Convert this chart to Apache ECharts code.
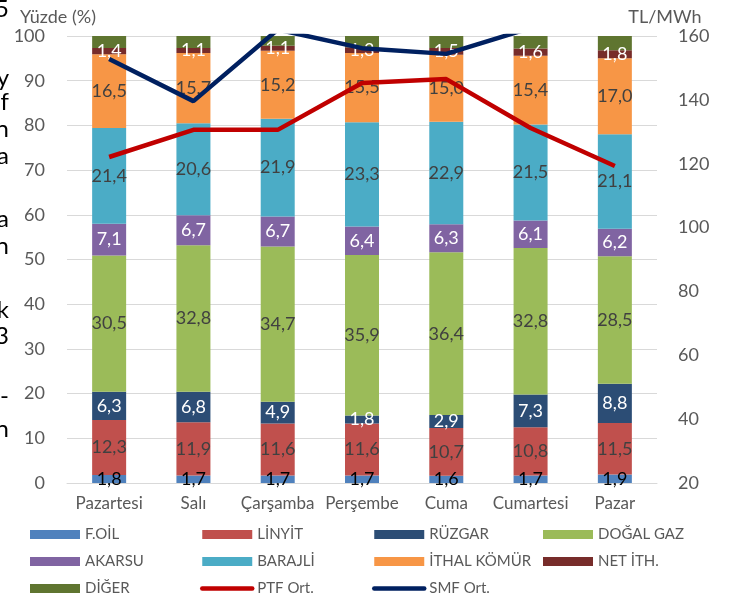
<!DOCTYPE html>
<html>
<head>
<meta charset="utf-8">
<script src="https://cdn.jsdelivr.net/npm/echarts@6/dist/echarts.min.js"></script>
<style>
    html, body { margin: 0; padding: 0; background: #fff; }
    #chart { width: 733px; height: 594px; }
</style>
</head>
<body>
<div id="chart"></div>
<script>
var days = ['Pazartesi', 'Salı', 'Çarşamba', 'Perşembe', 'Cuma', 'Cumartesi', 'Pazar'];

// kaynak payları (%)
var fOil = [1.8, 1.7, 1.7, 1.7, 1.6, 1.7, 1.9];
var linyit = [12.3, 11.9, 11.6, 11.6, 10.7, 10.8, 11.5];
var ruzgar = [6.3, 6.8, 4.9, 1.8, 2.9, 7.3, 8.8];
var dogalGaz = [30.5, 32.8, 34.7, 35.9, 36.4, 32.8, 28.5];
var akarsu = [7.1, 6.7, 6.7, 6.4, 6.3, 6.1, 6.2];
var barajli = [21.4, 20.6, 21.9, 23.3, 22.9, 21.5, 21.1];
var ithalKomur = [16.5, 15.7, 15.2, 15.5, 15.0, 15.4, 17.0];
var netIth = [1.4, 1.1, 1.1, 1.3, 1.5, 1.6, 1.8];
var diger = [2.7, 2.7, 2.2, 2.5, 2.7, 2.8, 3.2];

// fiyatlar (TL/MWh)
var ptf = [122.1, 130.6, 130.6, 145.3, 146.5, 131.2, 119.3];
var smf = [152.8, 139.6, 162.0, 156.2, 154.4, 162.5, 166.0];

// sol kenarda kesilmiş metin parçaları
var edgeText = ['5', 'y', 'lf', 'n', 'a', 'a', 'n', 'k', '3', '-', 'n'];
var edgeY = [11, 80, 104, 131, 158, 221, 248, 312, 338, 398, 431];

var font = 'Lato';
var gray = '#595959';

function fmt(p) {
    return p.value.toFixed(1).replace('.', ',');
}

function barSeries(name, data, color, labelColor) {
    return {
        name: name,
        type: 'bar',
        stack: 'pay',
        barWidth: 34,
        data: data,
        itemStyle: { color: color },
        label: {
            show: !!labelColor,
            position: 'inside',
            formatter: fmt,
            color: labelColor || '#404040',
            fontFamily: font,
            fontSize: 18
        }
    };
}

function lineSeries(name, data, color) {
    return {
        name: name,
        type: 'line',
        yAxisIndex: 1,
        data: data,
        symbol: 'none',
        z: 5,
        lineStyle: { color: color, width: 4.5 },
        itemStyle: { color: color }
    };
}

function legendCol(left, names) {
    return {
        orient: 'vertical',
        left: left,
        top: 527,
        height: 90,
        padding: 0,
        itemWidth: 50,
        itemHeight: 9,
        itemGap: 12,
        textStyle: { color: gray, fontFamily: font, fontSize: 15, lineHeight: 15 },
        data: names.map(function (n) {
            if (n === 'PTF Ort.' || n === 'SMF Ort.') {
                return { name: n, itemStyle: { opacity: 0 }, lineStyle: { width: 4.5, cap: 'round' } };
            }
            return { name: n, icon: 'rect' };
        })
    };
}

var chart = echarts.init(document.getElementById('chart'));

var option = {
    animation: false,
    backgroundColor: '#fff',
    grid: { left: 67, right: 76, top: 36, bottom: 111 },
    legend: [
        legendCol(30, ['F.OİL', 'AKARSU', 'DİĞER']),
        legendCol(200, ['LİNYİT', 'BARAJLİ', 'PTF Ort.']),
        legendCol(372, ['RÜZGAR', 'İTHAL KÖMÜR', 'SMF Ort.']),
        legendCol(543, ['DOĞAL GAZ', 'NET İTH.'])
    ],
    xAxis: {
        type: 'category',
        data: days,
        axisTick: { show: false },
        axisLine: { lineStyle: { color: '#D9D9D9', width: 1 } },
        axisLabel: { color: gray, fontFamily: font, fontSize: 17, margin: 12, interval: 0 }
    },
    yAxis: [
        {
            type: 'value',
            min: 0,
            max: 100,
            interval: 10,
            name: 'Yüzde (%)',
            nameGap: 10,
            nameTextStyle: { color: gray, fontFamily: font, fontSize: 18, padding: [0, 18, 0, 0] },
            axisLabel: { color: gray, fontFamily: font, fontSize: 18, margin: 22 },
            axisLine: { show: false },
            splitLine: { lineStyle: { color: '#D9D9D9', width: 1 } }
        },
        {
            type: 'value',
            min: 20,
            max: 160,
            interval: 20,
            name: 'TL/MWh',
            nameGap: 10,
            nameTextStyle: { color: gray, fontFamily: font, fontSize: 18, padding: [0, 0, 0, 16] },
            axisLabel: { color: gray, fontFamily: font, fontSize: 18, margin: 21 },
            axisLine: { show: false },
            splitLine: { show: false }
        }
    ],
    series: [
        barSeries('F.OİL', fOil, '#4F81BD', '#000000'),
        barSeries('LİNYİT', linyit, '#C0504D', '#404040'),
        barSeries('RÜZGAR', ruzgar, '#2C4D75', '#ffffff'),
        barSeries('DOĞAL GAZ', dogalGaz, '#9BBB59', '#404040'),
        barSeries('AKARSU', akarsu, '#8064A2', '#ffffff'),
        barSeries('BARAJLİ', barajli, '#4BACC6', '#404040'),
        barSeries('İTHAL KÖMÜR', ithalKomur, '#F79646', '#404040'),
        barSeries('NET İTH.', netIth, '#772C2A', '#ffffff'),
        barSeries('DİĞER', diger, '#5F7530', null),
        lineSeries('PTF Ort.', ptf, '#C00000'),
        lineSeries('SMF Ort.', smf, '#002060')
    ],
    graphic: edgeText.map(function (t, i) {
        return {
            type: 'text',
            right: 733 - 9,
            top: edgeY[i] - 14,
            style: { text: t, fill: '#000', font: '24px ' + font }
        };
    })
};

chart.setOption(option);
</script>
</body>
</html>
